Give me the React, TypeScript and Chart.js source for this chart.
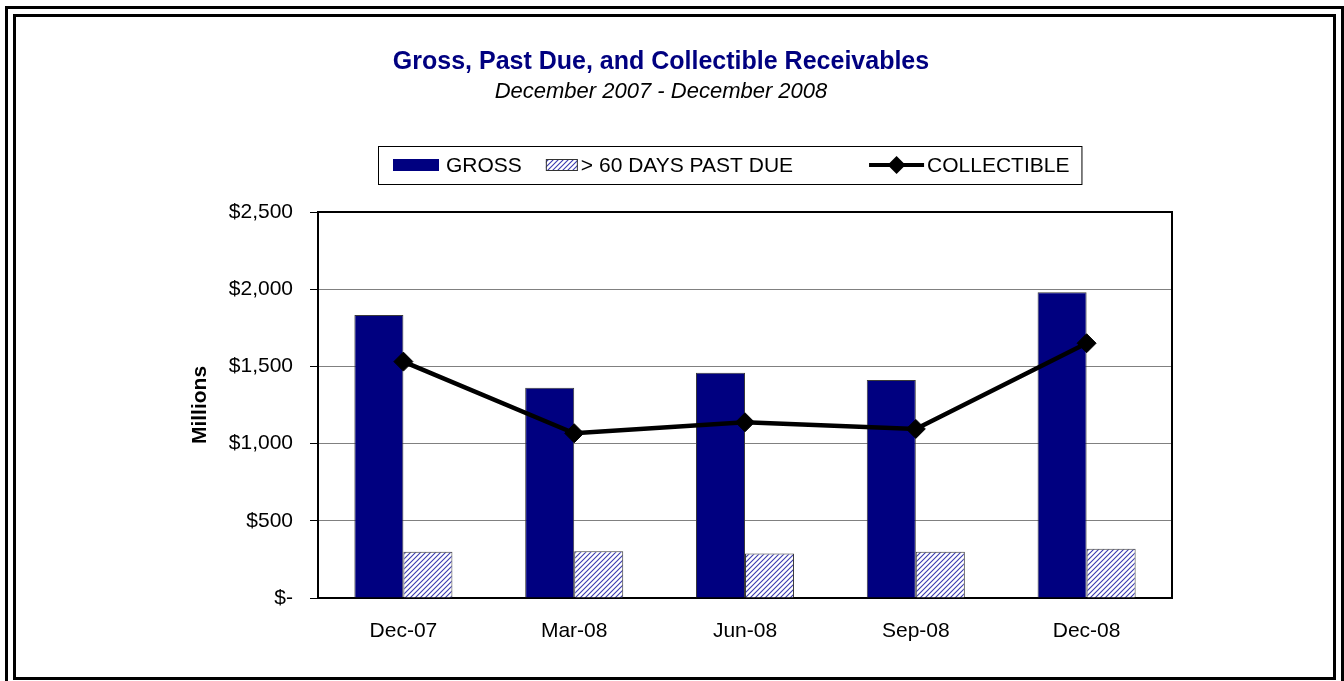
import React, { useEffect, useRef } from 'react';
import { Chart, registerables } from 'chart.js';

Chart.register(...registerables);

const categories = ['Dec-07', 'Mar-08', 'Jun-08', 'Sep-08', 'Dec-08'];
const grossValues = [1833, 1362, 1459, 1412, 1980];
const pastDueValues = [300, 302, 289, 300, 319];
const collectibleValues = [1531, 1067, 1138, 1095, 1650];
const yTickValues = [0, 500, 1000, 1500, 2000, 2500];
const seriesNames = ['GROSS', '> 60 DAYS PAST DUE', 'COLLECTIBLE'];
const titleText = 'Gross, Past Due, and Collectible Receivables';
const subtitleText = 'December 2007 - December 2008';
const yAxisTitle = 'Millions';

const NAVY = '#000080';
const FONT = "'Liberation Sans', Arial, sans-serif";

function makeHatch(ctx: CanvasRenderingContext2D) {
  const s = 5;
  const c = document.createElement('canvas');
  c.width = s;
  c.height = s;
  const g = c.getContext('2d')!;
  g.fillStyle = '#ffffff';
  g.fillRect(0, 0, s, s);
  g.strokeStyle = '#3a3ab0';
  g.lineWidth = 1.1;
  g.beginPath();
  g.moveTo(-1, s + 1);
  g.lineTo(s + 1, -1);
  g.moveTo(-1, 1);
  g.lineTo(1, -1);
  g.moveTo(s - 1, s + 1);
  g.lineTo(s + 1, s - 1);
  g.stroke();
  return ctx.createPattern(c, 'repeat');
}

const plotFrame = {
  id: 'plotFrame',
  beforeDatasetsDraw(chart: any) {
    const { ctx, chartArea: a } = chart;
    ctx.save();
    ctx.strokeStyle = '#000';
    ctx.lineWidth = 2;
    ctx.strokeRect(a.left, a.top, a.right - a.left, a.bottom - a.top);
    ctx.restore();
  },
};

const boxLegend = {
  id: 'boxLegend',
  afterDraw(chart: any) {
    const { ctx, chartArea: a } = chart;
    const ds = chart.data.datasets;
    ctx.save();
    ctx.font = `21px ${FONT}`;
    const widths = ds.map((d: any) => ctx.measureText(d.label).width);
    const symW = [46, 32, 55];
    const symGap = [7, 3, 3];
    const itemGap = [24, 76];
    const padL = 15;
    const padR = 12;
    let total = padL + padR;
    for (let i = 0; i < ds.length; i++) total += symW[i] + symGap[i] + widths[i];
    total += itemGap[0] + itemGap[1];
    const cx = (a.left + a.right) / 2 - 15;
    const left = Math.round(cx - total / 2);
    const top = a.top - 66;
    const bottom = a.top - 28;
    const cy = (top + bottom) / 2;
    ctx.strokeStyle = '#000';
    ctx.lineWidth = 1;
    ctx.strokeRect(left + 0.5, top + 0.5, total, bottom - top);
    let x = left + padL;
    ctx.fillStyle = ds[0].backgroundColor;
    ctx.fillRect(x, cy - 6, symW[0], 12);
    x += symW[0] + symGap[0];
    ctx.fillStyle = '#000';
    ctx.textBaseline = 'middle';
    ctx.textAlign = 'left';
    ctx.fillText(ds[0].label, x, cy + 1);
    x += widths[0] + itemGap[0];
    ctx.fillStyle = ds[1].backgroundColor;
    ctx.fillRect(x, cy - 6, symW[1], 12);
    ctx.strokeStyle = '#333';
    ctx.lineWidth = 1;
    ctx.strokeRect(x + 0.5, cy - 5.5, symW[1] - 1, 11);
    x += symW[1] + symGap[1];
    ctx.fillStyle = '#000';
    ctx.fillText(ds[1].label, x, cy + 1);
    x += widths[1] + itemGap[1];
    ctx.strokeStyle = '#000';
    ctx.lineWidth = 4;
    ctx.beginPath();
    ctx.moveTo(x, cy);
    ctx.lineTo(x + symW[2], cy);
    ctx.stroke();
    const mx = x + symW[2] / 2;
    ctx.fillStyle = '#000';
    ctx.beginPath();
    ctx.moveTo(mx, cy - 9);
    ctx.lineTo(mx + 9, cy);
    ctx.lineTo(mx, cy + 9);
    ctx.lineTo(mx - 9, cy);
    ctx.closePath();
    ctx.fill();
    x += symW[2] + symGap[2];
    ctx.fillText(ds[2].label, x, cy + 1);
    ctx.restore();
  },
};

export default function App() {
  const ref = useRef<HTMLCanvasElement | null>(null);

  useEffect(() => {
    const canvas = ref.current!;
    const ctx = canvas.getContext('2d')!;
    const hatch = makeHatch(ctx);
    const chart = new Chart(canvas, {
      type: 'bar',
      data: {
        labels: categories,
        datasets: [
          {
            type: 'bar',
            label: seriesNames[0],
            data: grossValues,
            backgroundColor: NAVY,
            borderColor: '#3a3a3a',
            borderWidth: 1,
            categoryPercentage: 0.574,
            barPercentage: 1,
            order: 1,
          },
          {
            type: 'bar',
            label: seriesNames[1],
            data: pastDueValues,
            backgroundColor: hatch as any,
            borderColor: '#3a3a3a',
            borderWidth: 1,
            categoryPercentage: 0.574,
            barPercentage: 1,
            order: 1,
          },
          {
            type: 'line',
            label: seriesNames[2],
            data: collectibleValues,
            borderColor: '#000',
            backgroundColor: '#000',
            borderWidth: 4.5,
            pointStyle: 'rectRot',
            pointRadius: 9.5,
            pointBackgroundColor: '#000',
            pointBorderColor: '#000',
            pointBorderWidth: 1,
            tension: 0,
            order: 0,
          } as any,
        ],
      },
      options: {
        animation: false,
        responsive: false,
        devicePixelRatio: 1,
        layout: { padding: 0 },
        plugins: {
          legend: { display: false },
          tooltip: { enabled: false },
          title: {
            display: true,
            text: titleText,
            color: NAVY,
            font: { family: FONT, size: 25, weight: 'bold' },
            padding: { top: 30, bottom: 0 },
          },
          subtitle: {
            display: true,
            text: subtitleText,
            color: '#000',
            font: { family: FONT, size: 22, style: 'italic' },
            padding: { top: 2, bottom: 106.6 },
          },
        },
        scales: {
          x: {
            grid: { display: false, drawTicks: false },
            border: { display: false },
            ticks: { color: '#000', font: { family: FONT, size: 21 }, padding: 21 },
            afterFit: (s: any) => {
              s.height = 79;
            },
          },
          y: {
            min: 0,
            max: 2500,
            afterBuildTicks: (s: any) => {
              s.ticks = yTickValues.map((v) => ({ value: v }));
            },
            ticks: {
              color: '#000',
              font: { family: FONT, size: 21 },
              padding: 17,
              callback: (v: any) => (Number(v) === 0 ? '$-' : '$' + Number(v).toLocaleString('en-US')),
            },
            grid: { color: '#808080', lineWidth: 1, tickColor: '#000', tickLength: 8, drawTicks: true },
            border: { display: false },
            title: {
              display: true,
              text: yAxisTitle,
              color: '#000',
              font: { family: FONT, size: 21, weight: 'bold' },
              padding: { top: 172, bottom: 4 },
            },
            afterFit: (s: any) => {
              s.width = 302;
            },
          },
          ySpacer: {
            position: 'right',
            display: true,
            grid: { display: false, drawTicks: false },
            ticks: { display: false },
            border: { display: false },
            afterFit: (s: any) => {
              s.width = 134;
            },
          },
        },
      } as any,
      plugins: [plotFrame, boxLegend],
    });
    return () => chart.destroy();
  }, []);

  return (
    <div
      style={{
        position: 'fixed',
        left: 5,
        top: 6,
        width: 1339,
        height: 682,
        border: '3px solid #000',
        boxSizing: 'border-box',
        background: '#fff',
      }}
    >
      <div
        style={{
          position: 'absolute',
          left: 5,
          top: 5,
          width: 1323,
          height: 666,
          border: '3px solid #000',
          boxSizing: 'border-box',
        }}
      >
        <canvas ref={ref} width={1290} height={660} style={{ display: 'block' }} />
      </div>
    </div>
  );
}
